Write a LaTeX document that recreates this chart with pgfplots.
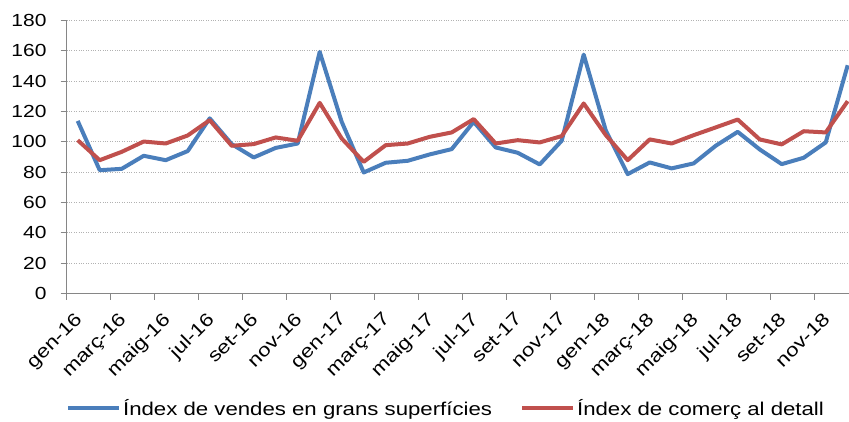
\documentclass[border=0pt]{standalone}
\usepackage{pgfplots}
\pgfplotsset{compat=1.18}
\usepackage{fontspec}
\setmainfont{Liberation Sans}[FakeStretch=1.2]
\definecolor{sblue}{HTML}{4A7EBB}
\definecolor{sred}{HTML}{C0504D}
\definecolor{axgray}{HTML}{868686}
\begin{document}
\begin{tikzpicture}
\path[use as bounding box] (-66.7pt,-127.5pt) rectangle (782.3pt,293.5pt);
\begin{axis}[
  scale only axis,
  width=783.2pt, height=273pt,
  xmin=-0.5, xmax=35.1,
  ymin=0, ymax=180,
  axis lines=left,
  axis line style={axgray, line width=1.2pt, -},
  ytick={0,20,...,180},
  xtick={-0.5,1.5,...,33.5},
  xticklabels={gen-16,març-16,maig-16,jul-16,set-16,nov-16,gen-17,març-17,maig-17,jul-17,set-17,nov-17,gen-18,març-18,maig-18,jul-18,set-18,nov-18},
  tick style={axgray, line width=1.2pt},
  tick align=outside,
  major tick length=6pt,
  ymajorgrids,
  major grid style={gray!60, dotted, line width=0.8pt},
  /pgf/number format/assume math mode=true,
  yticklabel style={font=\fontsize{17.5}{19}\selectfont, black, inner sep=2pt, xshift=-12pt},
  xticklabel style={font=\fontsize{18.5}{20}\selectfont, black, xshift=7pt, yshift=-10pt, rotate=45, anchor=north east, inner sep=1pt},
  clip=true,
  legend columns=2,
  legend style={at={(0.4843,-0.4194)}, anchor=center, draw=none, fill=none,
    font=\fontsize{18.5}{20}\selectfont,
    /tikz/every even column/.append style={column sep=26pt},
    inner sep=0pt},
  legend image code/.code={\draw[#1, line width=4pt] (0pt,0pt) -- (51pt,0pt);},
]
\addplot[sblue, line width=4pt, line join=round] coordinates {
(0,113.8) (1,81.3) (2,82.2) (3,90.8) (4,87.9) (5,93.9) (6,115.5) (7,98.5) (8,89.7) (9,96) (10,98.9)
(11,159.3) (12,113.2) (13,79.8) (14,86.2) (15,87.5) (16,91.7) (17,95.2) (18,113.2) (19,96.3) (20,92.8) (21,85.1) (22,100.7)
(23,157.5) (24,107.7) (25,78.7) (26,86.4) (27,82.5) (28,85.8) (29,97.4) (30,106.6) (31,95) (32,85.3) (33,89.5) (34,99.6) (35,150.5)
};
\addlegendentry{Índex de vendes en grans superfícies}
\addplot[sred, line width=4pt, line join=round] coordinates {
(0,101.1) (1,87.9) (2,93.4) (3,100.2) (4,98.9) (5,104.2) (6,114.3) (7,97.4) (8,98.5) (9,102.9) (10,100.7)
(11,125.7) (12,102.2) (13,86.8) (14,97.8) (15,98.9) (16,103.3) (17,106.2) (18,115) (19,98.9) (20,101.1) (21,99.6) (22,103.8)
(23,125.3) (24,104.5) (25,87.9) (26,101.6) (27,98.9) (28,104.4) (29,109.5) (30,114.7) (31,101.6) (32,98.3) (33,107) (34,106.2) (35,126.8)
};
\addlegendentry{Índex de comerç al detall}
\end{axis}
\end{tikzpicture}
\end{document}
